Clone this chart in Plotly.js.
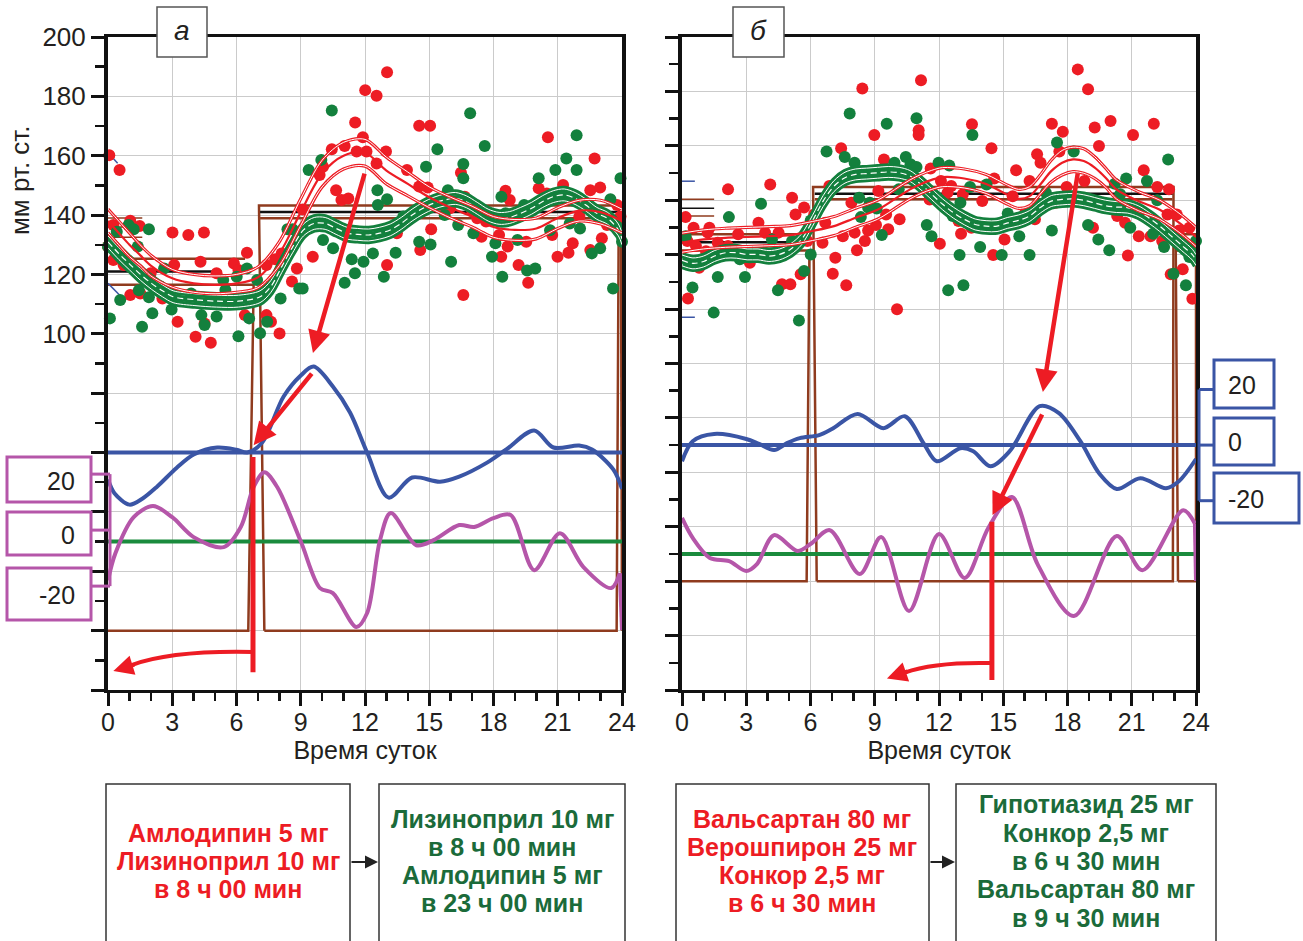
<!DOCTYPE html>
<html><head><meta charset="utf-8">
<script src="https://cdn.plot.ly/plotly-3.0.1.min.js"></script>
<style>html,body{margin:0;padding:0;background:#fff}#chart{width:1303px;height:941px}</style>
</head><body><div id="chart"></div>
<script>
// ---------------- DATA ----------------
const hourTicks = [0,3,6,9,12,15,18,21,24];
const bpTicks = [-40,-20,0,20,40,60,80,100,120,140,160,180,200];
const bpLabels = [100,120,140,160,180,200];
const panelLetters = ['а','б'];
const axisTitleX = 'Время суток';
const axisTitleY = 'мм рт. ст.';
const scaleLabels = ['20','0','-20'];
const scaleValues = [20,0,-20];

// Panel a: individual readings [hour, mmHg]
const leftRed = [[0.06,160.2],[0.54,155.2],[1.04,138.1],[1.48,136.3],[0.25,136.7],[0,129.4],[0.25,124.9],[0.73,123.2],
[3.01,134.1],[3.75,133.3],[4.48,134.1],[4.32,124.3],[3.09,123.2],[1.99,120.4],
[1.04,113.1],[1.51,113.6],[2.54,111.9],[3.25,104.1],[4.09,99.0],[4.8,97.0],[4.51,103.5],[5.59,110.0],
[6.49,127.3],[5.88,123.7],[6.09,121.5],[5.07,120.4],[6.39,106.3],[7.1,113.1],[7.4,123.2],[7.81,125.1],
[8.11,127.1],[8.82,122.0],[8.59,117.6],[7.61,104.1],[8.01,100.1],[7.4,106.3],
[9.09,141.9],[9.56,126.0],[9.88,153.5],[10.04,156.3],[10.45,162.2],[11.05,163.3],[11.54,171.2],[11.9,166.2],
[11.61,161.4],[12.07,161.4],[12.01,182.1],[12.54,180.2],[13.03,188.1],[12.98,161.4],[12.54,157.4],[13.96,155.2],
[14.53,170.1],[15.04,170.1],[14.93,149.3],[10.9,145.1],[10.65,148.4],[11.22,145.6],
[13.49,133.9],[13.03,123.2],[14.58,128.2],[15.09,135.2],[15.57,143.4],[16.48,154.3],[16.66,146.2],[15.97,142.3],
[16.59,113.1],[17.24,138.9],[17.65,137.8],[17.44,132.7],[18.36,126.0],[18.66,129.4],[18.56,148.2],[19.17,123.2],
[19.62,117.2],[19.53,131.0],[20.11,149.0],[20.54,166.2],[20.74,133.3],[20.99,126.0],[21.25,150.1],[21.5,127.3],
[21.7,130.5],[22.01,139.5],[22.52,148.4],[22.98,149.3],[22.72,159.1],[22.52,128.2],[23.06,132.2],[23.3,136.7],[23.77,143.4],[23.93,139.5],
[20.49,147.3],[14.53,149.6],[16.99,141.7],[18.26,133.3],[18.76,145.1]];
const leftGreen = [[0.09,105.2],[0.41,134.4],[0.57,111.4],[0.96,136.7],[1.2,135.2],[1.91,135.2],[1.39,129.4],[1.59,102.4],
[1.44,114.7],[1.91,112.3],[2.07,106.9],[2.62,122.0],[2.97,108.2],[3.88,113.6],[4.36,106.3],[4.51,103.0],
[5.07,105.8],[5.38,118.1],[6.01,119.2],[6.49,122.0],[6.09,99.2],[6.59,105.2],[7.1,100.2],[6.96,118.1],
[7.43,104.1],[8.06,111.9],[8.93,115.3],[9.09,115.3],[8.38,135.2],[8.62,135.2],[9.37,155.2],[9.96,158.6],
[10.45,175.2],[10.04,131.6],[10.51,128.8],[11.05,117.2],[11.38,125.1],[11.53,120.4],[11.93,124.3],[12.37,127.1],
[12.58,148.4],[12.6,143.4],[13.03,145.3],[12.88,119.2],[13.43,127.3],[13.51,136.7],[14.53,131.0],[15.06,130.1],
[14.85,156.3],[15.38,162.2],[15.87,148.4],[16.02,124.3],[16.35,136.7],[16.59,157.2],[16.59,152.4],[16.91,174.3],
[17.59,163.3],[17.06,133.9],[17.93,126.0],[18.09,130.5],[18.41,119.2],[18.37,146.2],[18.56,140.6],[19.12,131.6],
[19.43,143.4],[19.57,121.3],[19.95,122.0],[20.11,152.4],[20.64,134.9],[20.89,155.2],[21.4,159.1],[21.88,166.9],
[21.88,155.2],[21.56,137.2],[22.04,135.5],[22.59,127.1],[22.98,128.8],[23.46,145.3],[23.93,152.4],[23.58,115.3],
[24.0,131.0],[14.45,140.6],[15.72,140.0],[13.79,139.5],[0,129.4],[2.46,115.9],[5.48,114.8]];

// Panel б: individual readings
const rightRed = [[0.17,133.8],[0.54,129.9],[1.28,129.9],[1.2,128.1],[2.15,144.0],[0.25,125.0],[0.65,123.2],[1.12,121.3],
[1.67,124.4],[2.15,123.2],[2.62,127.5],[0.8,115.2],[0.28,103.9],[3.17,117.0],[3.57,131.7],[4.12,145.8],
[3.88,128.1],[4.51,128.1],[4.67,109.1],[5.06,109.1],[5.14,140.9],[5.3,134.8],[5.7,137.3],[5.54,112.8],
[5.85,125.0],[6.17,134.8],[6.56,124.4],[6.88,145.2],[6.69,131.7],[7.04,113.0],[7.16,118.9],[7.43,159.1],
[7.51,126.8],[7.67,108.8],[7.91,139.1],[8.06,128.1],[8.17,121.6],[8.54,125.0],[8.69,128.9],[8.42,181.1],
[8.98,164.0],[9.06,130.9],[9.17,143.4],[9.43,155.0],[9.53,134.8],[9.63,129.3],[10.04,99.9],[10.01,151.0],
[10.16,133.0],[10.48,148.0],[11.16,184.1],[11.05,165.7],[11.05,164.0],[11.56,140.3],[11.61,151.7],[12.09,147.1],
[12.04,124.0],[12.4,142.8],[12.57,145.2],[12.91,132.4],[13.03,127.7],[13.11,142.2],[13.54,167.9],[13.51,129.9],
[14.02,139.7],[14.45,159.1],[14.53,119.9],[14.58,148.0],[15.06,125.6],[15.44,141.5],[15.6,151.0],[16.03,135.4],
[16.23,147.1],[16.58,156.9],[16.74,153.8],[16.48,133.0],[17.27,168.1],[17.78,165.2],[17.62,157.9],[17.45,139.1],
[17.96,144.9],[18.48,188.1],[18.96,180.8],[19.27,166.7],[19.47,159.9],[19.19,129.9],[18.79,147.1],[20.01,169.1],
[19.67,139.1],[20.14,138.7],[20.61,138.5],[20.32,134.2],[20.69,131.7],[20.82,119.7],[21.06,164.0],[21.33,126.8],
[21.56,151.0],[22.03,168.1],[21.88,126.8],[22.19,144.9],[22.42,125.0],[22.67,134.8],[23.1,134.8],[23.21,128.9],
[23.69,129.9],[22.82,112.8],[23.38,114.6],[23.83,103.8],[22.74,144.0]];
const rightGreen = [[0.17,126.8],[0.49,107.9],[1.48,98.7],[1.67,111.8],[2.19,133.8],[2.46,121.9],[2.7,118.3],[2.94,111.8],
[3.22,120.1],[3.69,138.7],[4.2,125.6],[4.48,106.9],[5.14,125.0],[5.46,95.8],[5.7,114.0],[6.01,120.1],
[6.75,157.9],[7.6,155.9],[8.06,153.8],[7.83,171.9],[8.27,140.9],[8.35,133.8],[8.77,139.1],[9.09,137.0],
[9.33,127.2],[9.56,168.1],[9.92,153.8],[10.12,144.0],[10.45,155.9],[10.67,153.2],[10.95,170.1],[10.95,152.2],
[11.43,130.9],[11.65,126.8],[11.98,153.8],[12.48,152.8],[12.43,106.9],[12.64,134.2],[12.96,119.9],[13.0,139.1],
[13.14,108.8],[13.45,144.9],[13.56,164.0],[13.92,122.8],[14.22,145.8],[14.93,119.9],[15.21,135.1],[15.75,126.8],
[16.23,119.9],[16.32,133.6],[16.99,142.8],[17.27,128.9],[17.51,161.2],[18.29,157.9],[18.96,130.9],[19.44,125.6],
[19.95,121.6],[20.21,146.1],[20.46,142.2],[20.74,148.0],[20.93,129.9],[21.71,147.1],[22.0,127.7],[22.19,140.0],
[22.51,122.8],[22.7,155.0],[22.95,113.0],[23.53,108.8],[23.69,119.1],[24.0,125.0],[6.01,132.6],[8.69,137.3]];

// Smoothed profiles, panel a
const leftFitHour = [0,0.51,1.01,1.52,2.03,2.54,3.04,4.06,5.07,6.09,7.1,7.61,8.11,8.62,9.13,9.63,10.14,10.65,11.16,11.66,12.17,12.68,13.18,13.69,14.2,14.71,15.21,15.72,16.23,16.73,17.24,17.75,18.26,18.76,19.27,19.78,20.28,20.79,21.3,21.81,22.31,22.82,23.33,23.83,24];
const leftGreenMean = [131,127,123.5,120,117,114.5,112.5,111.5,111,111,112.5,116,122.6,129.3,135,137.2,137.2,135.5,133.9,133.5,133.3,133.9,135,137.2,140,142.3,144,145.1,145.6,144.5,142.3,140,138.9,139.2,140.6,142.3,144.5,146.2,146.8,145.6,143.4,140.6,138.9,135,132];
const leftGreenUpper = [133,129,125.5,122,119,116.5,114.5,113.5,113,113,114.5,118,124.6,131.3,137,139.2,139.2,137.5,135.9,135.5,135.3,135.9,137,139.2,142,144.3,146,147.1,147.6,146.5,144.3,142,140.9,141.2,142.6,144.3,146.5,148.2,148.8,147.6,145.4,142.6,140.9,137,134];
const leftGreenLower = [129,125,121.5,118,115,112.5,110.5,109.5,109,109,110.5,114,120.6,127.3,133,135.2,135.2,133.5,131.9,131.5,131.3,131.9,133,135.2,138,140.3,142,143.1,143.6,142.5,140.3,138,136.9,137.2,138.6,140.3,142.5,144.2,144.8,143.6,141.4,138.6,136.9,133,130];
const leftRedHour = [0,0.5,1,1.5,2,3,4,5,6,7,8,9,10,11,12,13,14,15,16,17,18,19,20,21,22,23,24];
const leftRedMean = [138,134,130,126.5,123,118.7,117,116.5,117,119,127,141,154,160,161,155,150.5,146,142.5,139.5,136,135,135.5,139,141.5,141,138];
const leftRedUpper = [142,138,134,130,126.5,121.7,120,119.5,120,122.5,131,145.5,158.5,164.5,165.5,159.5,154.5,149.5,146,143,139.5,138.5,139,142.5,145,145,142];
const leftRedLower = [134,130,126,123,119.5,115.7,114,113.5,114,115.5,123,136.5,149.5,155.5,156.5,150.5,146.5,142.5,139,136,132.5,131.5,132,135.5,138,137,134];

// Smoothed profiles, panel б
const rightFitHour = [0,0.51,1.01,1.52,2.03,2.54,3.04,3.55,4.06,4.56,5.07,5.58,6.09,6.59,7.1,7.61,8.11,8.62,9.13,9.63,10.14,10.65,11.16,11.66,12.17,12.68,13.18,13.69,14.2,14.71,15.21,15.72,16.23,16.73,17.24,17.75,18.26,18.76,19.27,19.78,20.28,20.79,21.3,21.81,22.31,22.82,23.33,23.83,24];
const rightGreenMean = [117.9,116.8,117.5,119.5,120.7,120.7,120.1,120.1,119.5,120.1,122,125.6,132.4,139.7,145.2,148.3,149.5,149.8,150.1,150.4,150.1,148.9,145.8,142.2,138.5,135.4,133,131.1,130.5,130.5,131.7,132.6,134.2,137.3,139.7,140.3,140.5,140,139,138,137.5,137.3,136,133.5,130.5,127,123.5,120,118];
const rightGreenUpper = [119.9,118.8,119.5,121.5,122.7,122.7,122.1,122.1,121.5,122.1,124,127.6,134.4,141.7,147.2,150.3,151.5,151.8,152.1,152.4,152.1,150.9,147.8,144.2,140.5,137.4,135,133.1,132.5,132.5,133.7,134.6,136.2,139.3,141.7,142.3,142.5,142,141,140,139.5,139.3,138,135.5,132.5,129,125.5,122,120];
const rightGreenLower = [115.9,114.8,115.5,117.5,118.7,118.7,118.1,118.1,117.5,118.1,120,123.6,130.4,137.7,143.2,146.3,147.5,147.8,148.1,148.4,148.1,146.9,143.8,140.2,136.5,133.4,131,129.1,128.5,128.5,129.7,130.6,132.2,135.3,137.7,138.3,138.5,138,137,136,135.5,135.3,134,131.5,128.5,125,121.5,118,116];
const rightRedHour = [0,1.01,2.03,3.04,4.06,5.07,6.09,7.1,8.11,9.13,10.14,10.65,11.16,11.66,12.17,13.18,14.2,15.21,15.72,16.23,16.73,17.24,17.75,18.26,18.76,19.27,19.78,20.28,21.3,22.31,23.33,24];
const rightRedMean = [124.4,125.6,126.2,126.5,126.8,127.2,128.7,130.5,133.6,136.5,141.5,144,146,147.5,148.5,148,146,142,140.5,141.5,145.8,150.7,153.8,155,154.4,152,148.3,144,139.7,136.5,131,126.5];
const rightRedUpper = [127.9,129.1,129.7,130,130.3,130.7,132.2,134,137.1,140,145,147.5,149.5,151,152,151.5,149.5,145.5,144,145,149.3,154.7,158.3,159.5,158.9,156,151.8,147.5,143.2,140,134.5,130];
const rightRedLower = [120.9,122.1,122.7,123,123.3,123.7,125.2,127,130.1,133,138,140.5,142.5,144,145,144.5,142.5,138.5,137,138,142.3,146.7,149.3,150.5,149.9,148,144.8,140.5,136.2,133,127.5,123];

// Period levels (mmHg) and sleep/wake step, panel a
const leftStepNightX = [0,6.55,6.8,0], leftStepNightY = [0,0,116.5,116.5];
const leftStepDayX = [7.3,7.05,23.85,23.75,7.3], leftStepDayY = [0,143.2,143.2,0,0];
const leftNightHi = {x:[0,6.4], y:[125.3,125.3]}, leftNightMean = {x:[0,5.3], y:[121,121]};
const leftDayLo = {x:[7.1,23.8], y:[138.9,138.9]}, leftDayMean = {x:[7.1,23.8], y:[141,141]};
const leftShortBrown = [139,136,132.5];
// Period levels, panel б
const rightStepNightX = [0,5.82,5.95,0], rightStepNightY = [0,0,121.5,121.5];
const rightStepDayX = [6.29,6.12,22.95,22.92,6.29], rightStepDayY = [0,144.9,144.9,0,0];
const rightStepLateX = [23.16,23.05,24,24,23.16], rightStepLateY = [0,127.5,127.5,0,0];
const rightNightHi = {x:[0,5.8], y:[127.5,127.5]}, rightNightMean = {x:[0,5.5], y:[124.6,124.6]};
const rightDayLo = {x:[6.2,22.9], y:[140.4,140.4]}, rightDayMean = {x:[6.2,22.9], y:[142.4,142.4]};
const rightLateLo = {x:[23.05,24], y:[121.5,121.5]}, rightLateMean = {x:[23.1,24], y:[124.6,124.6]};
const rightShortBrown = [140.4,134.2], rightShortBlack = 137.1, rightShortBlue = [147,97];

// Derived rhythm curves (own scale, -20..20)
const leftBlueHour = [0,0.3,1.0,1.6,2.3,3.2,4.0,5.1,6.0,6.5,7.2,8.2,9.0,9.6,10.5,11.3,12.1,13.1,14.2,15.5,16.4,17.7,18.6,19.9,20.8,22.0,22.6,23.6,24.0];
const leftBlueVal = [-9.6,-14.5,-18.6,-16.5,-12.1,-5.5,-0.7,1.8,1.0,0,3.6,20,27.5,30.7,23.6,14.3,0,-16.1,-8.9,-10.4,-8.6,-3.6,1.1,7.9,1.8,2.5,1.1,-6.1,-13];
const leftPinkHour = [0,0.35,1.2,2.1,3.0,4.0,5.4,6.2,6.8,7.3,7.9,9.0,9.9,10.5,11.6,12.1,12.7,13.2,14.4,15.2,16.4,17.1,18.0,18.8,19.9,21.1,22.2,23.5,23.9];
const leftPinkVal = [-17.9,-8.2,4.6,8.6,4.6,-2.5,-6.1,1.1,15.4,20.7,15.4,-4.0,-20.7,-22.5,-34.6,-29.6,-3.6,6.1,-5.4,-3.6,1.8,1.1,4.3,5.4,-14.3,-1.1,-13.2,-20.7,-15.4];
const leftPinkEnd = {x:[23.9,24.0], y:[-15.4,-35.7]};
const rightBlueHour = [0,0.5,1.5,3.0,3.6,4.3,4.9,5.5,6.4,7.0,8.2,9.4,10.4,11.3,11.9,13.0,13.6,14.4,15.3,16.7,17.6,18.6,19.5,20.3,21.4,22.6,23.2,24.0];
const rightBlueVal = [-5.8,1.4,4.0,2.2,0.4,-1.8,0.7,2.5,3.6,5.8,11.2,6.1,10.4,0.4,-5.8,-1.1,-2.2,-7.6,-2.2,14.0,11.5,1.4,-10.4,-15.8,-11.9,-15.5,-13,-5];
const rightPinkHour = [0,0.5,1.3,2.2,3.0,3.5,4.3,5.4,6.0,6.9,8.3,9.3,10.6,12.0,13.2,14.3,15.4,16.6,18.3,20.3,21.5,23.4,23.95];
const rightPinkVal = [13,5.8,-1.4,-2.5,-6.1,-3.6,6.8,1.1,3.6,8.6,-7.2,6.1,-20.5,7.2,-8.6,9.4,20.5,-3.6,-22.3,6.5,-5.8,15.8,11];
const rightPinkEnd = {x:[23.95,24.0], y:[11,-9.7]};
const leftGreenBase = 30, rightGreenBase = 10;

const regimens = [
  {lines:['Амлодипин 5 мг','Лизиноприл 10 мг','в 8 ч 00 мин'], color:'#ED1C24'},
  {lines:['Лизиноприл 10 мг','в 8 ч 00 мин','Амлодипин 5 мг','в 23 ч 00 мин'], color:'#1B6B3A'},
  {lines:['Вальсартан 80 мг','Верошпирон 25 мг','Конкор 2,5 мг','в 6 ч 30 мин'], color:'#ED1C24'},
  {lines:['Гипотиазид 25 мг','Конкор 2,5 мг','в 6 ч 30 мин','Вальсартан 80 мг','в 9 ч 30 мин'], color:'#1B6B3A'}
];

// ---------------- DRAW ----------------
const W=1303, H=941;
const px = v => v/W, py = v => 1 - v/H;
const RED='#ED1C24', GREEN='#13803D', BLUE='#3A55A5', PINK='#B556A9', BROWN='#8F3B1E', LGREEN='#1A8B3D', INK='#231f20';
const FONT = 'Liberation Sans, Arial, sans-serif';

const traces = [];
function line(x,y,xa,ya,color,width,extra){
  traces.push(Object.assign({type:'scatter',mode:'lines',x:x,y:y,xaxis:xa,yaxis:ya,
    line:{color:color,width:width},hoverinfo:'skip',cliponaxis:true}, extra||{}));
}
function spline(x,y,xa,ya,color,width,dash){
  traces.push({type:'scatter',mode:'lines',x:x,y:y,xaxis:xa,yaxis:ya,
    line:{color:color,width:width,shape:'spline',smoothing:0.9,dash:dash||'solid'},hoverinfo:'skip'});
}
function dots(pairs,xa,ya,color){
  traces.push({type:'scatter',mode:'markers',x:pairs.map(p=>p[0]),y:pairs.map(p=>p[1]),xaxis:xa,yaxis:ya,
    marker:{size:12,color:color},hoverinfo:'skip',cliponaxis:false});
}

function panel(P){
  const xa=P.xa, ya=P.ya;
  line(P.stepNightX,P.stepNightY,xa,ya,BROWN,2.5);
  line(P.stepDayX,P.stepDayY,xa,ya,BROWN,2.5);
  if(P.stepLateX) line(P.stepLateX,P.stepLateY,xa,ya,BROWN,2.5);
  P.levels.forEach(L=>line(L.d.x,L.d.y,xa,ya,L.c,L.w));
  dots(P.red,xa,ya,RED);
  dots(P.green,xa,ya,GREEN);
  [P.gU,P.gM,P.gL].forEach(g=>spline(P.gH,g,xa,ya,GREEN,6.5));
  spline(P.gH,P.gU,xa,ya,'#ffffff',1);
  spline(P.gH,P.gL,xa,ya,'#ffffff',1);
  spline(P.gH,P.gM,xa,ya,'#ffffff',1.2,'6px,4px');
  [P.rU,P.rL].forEach(r=>{spline(P.rH,r,xa,ya,RED,3.2); spline(P.rH,r,xa,ya,'#ffffff',1);});
  spline(P.rH,P.rM,xa,ya,RED,2.2);
  line([0,24],[P.greenBase,P.greenBase],xa,ya,LGREEN,4);
  line([0,24],[0,0],xa,P.yb,BLUE,4);
  spline(P.bH,P.bV,xa,P.yb,BLUE,4);
  spline(P.pH,P.pV,xa,P.yp,PINK,4);
  line(P.pEnd.x,P.pEnd.y,xa,P.yp,PINK,4);
}

const leftShort = leftShortBrown.map(v=>({d:{x:[0,1.6],y:[v,v]},c:BROWN,w:1.5}));
panel({xa:'x',ya:'y',yb:'y3',yp:'y4',
  stepNightX:leftStepNightX,stepNightY:leftStepNightY,stepDayX:leftStepDayX,stepDayY:leftStepDayY,
  levels:[{d:leftNightHi,c:BROWN,w:2.5},{d:leftNightMean,c:'#111',w:2.5},{d:leftDayLo,c:BROWN,w:2.5},{d:leftDayMean,c:'#111',w:2.5},
          {d:{x:[23.95,24],y:[140,0]},c:BROWN,w:2.5},
          {d:{x:[0,0.45],y:[161,157.5]},c:BLUE,w:1.5},{d:{x:[0,0.55],y:[117,113]},c:BLUE,w:1.5}].concat(leftShort),
  red:leftRed,green:leftGreen,
  gH:leftFitHour,gM:leftGreenMean,gU:leftGreenUpper,gL:leftGreenLower,
  rH:leftRedHour,rM:leftRedMean,rU:leftRedUpper,rL:leftRedLower,
  greenBase:leftGreenBase,bH:leftBlueHour,bV:leftBlueVal,pH:leftPinkHour,pV:leftPinkVal,pEnd:leftPinkEnd});

const rightShort = rightShortBrown.map(v=>({d:{x:[0,1.5],y:[v,v]},c:BROWN,w:1.5}))
  .concat([{d:{x:[0,1.5],y:[rightShortBlack,rightShortBlack]},c:'#111',w:1.5}])
  .concat(rightShortBlue.map(v=>({d:{x:[0,0.6],y:[v,v]},c:BLUE,w:1.5})));
panel({xa:'x2',ya:'y2',yb:'y5',yp:'y6',
  stepNightX:rightStepNightX,stepNightY:rightStepNightY,stepDayX:rightStepDayX,stepDayY:rightStepDayY,
  stepLateX:rightStepLateX,stepLateY:rightStepLateY,
  levels:[{d:rightNightHi,c:BROWN,w:2.5},{d:rightNightMean,c:'#111',w:2.5},{d:rightDayLo,c:BROWN,w:2.5},{d:rightDayMean,c:'#111',w:2.5},
          {d:rightLateLo,c:BROWN,w:2.5},{d:rightLateMean,c:'#111',w:2.5}].concat(rightShort),
  red:rightRed,green:rightGreen,
  gH:rightFitHour,gM:rightGreenMean,gU:rightGreenUpper,gL:rightGreenLower,
  rH:rightRedHour,rM:rightRedMean,rU:rightRedUpper,rL:rightRedLower,
  greenBase:rightGreenBase,bH:rightBlueHour,bV:rightBlueVal,pH:rightPinkHour,pV:rightPinkVal,pEnd:rightPinkEnd});

// ---------------- AXES ----------------
const minorHours = []; for(let h=0;h<=24;h++) if(h%3) minorHours.push(h);
function xAxis(dom,anchor){
  return {domain:dom,anchor:anchor,range:[0,24],tickmode:'array',tickvals:hourTicks,ticktext:hourTicks.map(String),
    ticks:'outside',ticklen:13,tickwidth:3,tickcolor:'#111',ticklabelstandoff:-5,
    minor:{tickmode:'array',tickvals:minorHours,ticks:'outside',ticklen:8,tickwidth:2.5,tickcolor:'#111',showgrid:false},
    showline:true,linecolor:'#111',linewidth:3,mirror:true,showgrid:true,gridcolor:'#cbcbcb',gridwidth:1,zeroline:false,
    tickfont:{size:25,color:INK},title:{text:axisTitleX,font:{size:25,color:INK},standoff:0},fixedrange:true};
}
const yDom = [py(690),py(37)];
function yAxis(anchor,lo,labels){
  const tv = bpTicks.filter(v=>v>=lo);
  const mv = []; for(let v=lo+10; v<200; v+=20) mv.push(v);
  return {domain:yDom,anchor:anchor,range:[lo,200],tickmode:'array',tickvals:tv,
    ticktext:tv.map(v=>labels && bpLabels.indexOf(v)>=0 ? String(v) : ''),
    ticks:'outside',ticklen:13,tickwidth:3,tickcolor:'#111',
    minor:{tickmode:'array',tickvals:mv,ticks:'outside',ticklen:9,tickwidth:2.5,tickcolor:'#111',showgrid:false},
    showline:true,linecolor:'#111',linewidth:4,mirror:true,showgrid:true,gridcolor:'#cbcbcb',gridwidth:1,zeroline:false,
    tickfont:{size:26,color:INK},fixedrange:true};
}
function overlay(base,anchor,range){ return {overlaying:base,anchor:anchor,range:range,visible:false,fixedrange:true}; }

// ---------------- SHAPES & ANNOTATIONS ----------------
const shapes = [], annotations = [];
function rectPx(x0,y0,x1,y1,color,width){
  shapes.push({type:'rect',xref:'paper',yref:'paper',x0:px(x0),x1:px(x1),y0:py(y1),y1:py(y0),
    line:{color:color,width:width},fillcolor:'#ffffff',layer:'above'});
}
function textPx(x,y,text,size,color,xanchor,extra){
  annotations.push(Object.assign({xref:'paper',yref:'paper',x:px(x),y:py(y),text:text,showarrow:false,
    font:{size:size,color:color,family:FONT},xanchor:xanchor||'center',yanchor:'middle'},extra||{}));
}
function arrow(xr,yr,hx,hy,tx,ty,w){
  annotations.push({xref:xr,yref:yr,axref:xr,ayref:yr,x:hx,y:hy,ax:tx,ay:ty,text:'',showarrow:true,
    arrowhead:2,arrowsize:1,arrowwidth:w||4.5,arrowcolor:RED});
}

// panel letters
rectPx(157,7,207,57,'#555',1.5); textPx(182,31,'<i>'+panelLetters[0]+'</i>',28,INK);
rectPx(733,7,784,57,'#555',1.5); textPx(758,31,'<i>'+panelLetters[1]+'</i>',28,INK);
// y title
textPx(20,180,axisTitleY,26,INK,'center',{textangle:-90});

// pink scale (panel a)
const pinkBoxes = [[457,502],[512,555],[568,620]];
pinkBoxes.forEach((b,i)=>{ rectPx(7,b[0],91,b[1],PINK,3); textPx(77,(b[0]+b[1])/2+1,scaleLabels[i],25,INK,'right'); });
scaleValues.forEach(v=>shapes.push({type:'line',xref:'paper',yref:'y4',x0:px(91),x1:px(110),y0:v,y1:v,line:{color:PINK,width:3},layer:'above'}));
shapes.push({type:'line',xref:'paper',yref:'y4',x0:px(110),x1:px(110),y0:-20,y1:20,line:{color:PINK,width:3},layer:'above'});
// blue scale (panel б)
const blueBoxes = [[1214,360,1274,408],[1214,418,1274,465],[1214,473,1299,523]];
blueBoxes.forEach((b,i)=>{ rectPx(b[0],b[1],b[2],b[3],BLUE,3); textPx(1226,(b[1]+b[3])/2+1,scaleLabels[i],25,INK,'left'); });
scaleValues.forEach(v=>shapes.push({type:'line',xref:'paper',yref:'y5',x0:px(1199),x1:px(1214),y0:v,y1:v,line:{color:BLUE,width:3},layer:'above'}));
shapes.push({type:'line',xref:'paper',yref:'y5',x0:px(1199),x1:px(1199),y0:-20,y1:20,line:{color:BLUE,width:3},layer:'above'});

// red arrows panel a
arrow('x','y',9.57,93.5,12.0,154.5);
arrow('x','y',6.8,62.5,9.57,87.1);
shapes.push({type:'line',xref:'x',yref:'y',x0:6.77,x1:6.77,y0:58.5,y1:-14,line:{color:RED,width:5},layer:'above'});
shapes.push({type:'path',xref:'x',yref:'y',path:'M 6.77,-7.2 Q 3.0,-6.6 1.1,-11.6',line:{color:RED,width:4},layer:'above'});
arrow('x','y',0.25,-13.6,1.3,-11.3,4);
// red arrows panel б
arrow('x2','y2',16.85,69.5,18.49,150.4);
arrow('x2','y2',14.5,24.3,16.85,61.8);
shapes.push({type:'line',xref:'x2',yref:'y2',x0:14.47,x1:14.47,y0:21.8,y1:-36.3,line:{color:RED,width:5},layer:'above'});
shapes.push({type:'path',xref:'x2',yref:'y2',path:'M 14.47,-30.1 Q 11.8,-29.6 10.4,-33.6',line:{color:RED,width:4},layer:'above'});
arrow('x2','y2',9.57,-35.8,10.6,-33.0,4);

// regimen boxes (one annotation per line, 28.3 px line pitch)
const regBoxes = [[106,350,228],[379,625,502],[676,929,802],[956,1216,1086]];
regBoxes.forEach((b,i)=>{
  rectPx(b[0],784,b[1],960,'#333',1.5);
  const n = regimens[i].lines.length;
  regimens[i].lines.forEach((t,k)=>textPx(b[2],861+(k-(n-1)/2)*28.3,'<b>'+t+'</b>',25,regimens[i].color,'center'));
});
[[378,350],[955,929]].forEach(a=>annotations.push({xref:'paper',yref:'paper',x:px(a[0]),y:py(862),ax:-(a[0]-a[1]),ay:0,
  text:'',showarrow:true,arrowhead:2,arrowsize:1.3,arrowwidth:2,arrowcolor:'#222'}));

const layout = {
  width:W,height:H,margin:{l:0,r:0,t:0,b:0},paper_bgcolor:'#ffffff',plot_bgcolor:'#ffffff',showlegend:false,
  font:{family:FONT,color:INK,size:20},
  xaxis:xAxis([px(108),px(622)],'y'),
  xaxis2:xAxis([px(682),px(1196)],'y2'),
  yaxis:yAxis('x',-20,true),
  yaxis2:yAxis('x2',-40,false),
  yaxis3:overlay('y','x',[-84.8,148.4]),
  yaxis4:overlay('y','x',[-57.1,176.1]),
  yaxis5:overlay('y2','x2',[-88.1,146.8]),
  yaxis6:overlay('y2','x2',[-48.9,186.0]),
  shapes:shapes,annotations:annotations
};
Plotly.newPlot('chart',traces,layout,{staticPlot:true,displayModeBar:false});
</script></body></html>
